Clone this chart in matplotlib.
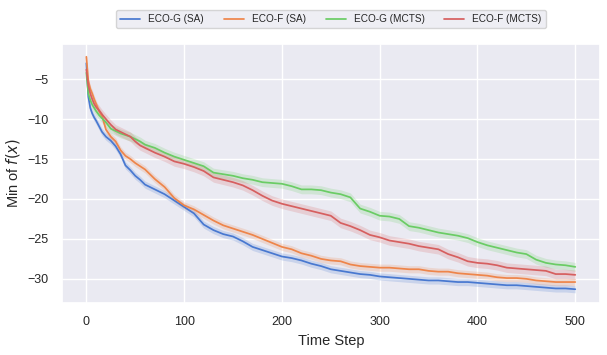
import matplotlib
matplotlib.use("Agg")
import matplotlib.pyplot as plt
import seaborn as sns
import numpy as np

sns.set_theme(style="darkgrid", palette="muted")
plt.rcParams["font.family"] = ["Liberation Sans", "DejaVu Sans"]

steps = [0, 2, 4, 6, 8, 10, 13, 16, 20, 25, 30, 35, 40, 45, 50, 55, 60, 70, 80, 90,
         100, 110, 120, 130, 140, 150, 160, 170, 180, 190, 200, 210, 220, 230, 240,
         250, 260, 270, 280, 290, 300, 310, 320, 330, 340, 350, 360, 370, 380, 390,
         400, 410, 420, 430, 440, 450, 460, 470, 480, 490, 500]

eco_g_sa = [-3.0, -7.2, -8.6, -9.3, -9.8, -10.2, -10.9, -11.6, -12.2, -12.7, -13.4,
            -14.4, -15.8, -16.4, -17.1, -17.6, -18.2, -18.8, -19.4, -20.2, -21.0,
            -21.8, -23.2, -23.9, -24.4, -24.7, -25.3, -26.0, -26.4, -26.8, -27.2,
            -27.4, -27.7, -28.1, -28.4, -28.8, -29.0, -29.2, -29.4, -29.5, -29.7,
            -29.8, -29.9, -30.0, -30.1, -30.2, -30.2, -30.3, -30.4, -30.4, -30.5,
            -30.6, -30.7, -30.8, -30.8, -30.9, -31.0, -31.1, -31.2, -31.2, -31.3]
eco_f_sa = [-2.2, -5.2, -6.2, -6.8, -7.5, -8.1, -9.0, -9.6, -11.3, -12.2, -12.8,
            -13.9, -14.6, -15.0, -15.5, -15.9, -16.3, -17.5, -18.5, -19.9, -20.8,
            -21.3, -22.0, -22.7, -23.3, -23.7, -24.1, -24.5, -25.0, -25.5, -26.0,
            -26.3, -26.8, -27.1, -27.5, -27.7, -27.8, -28.2, -28.4, -28.5, -28.6,
            -28.6, -28.7, -28.8, -28.8, -29.0, -29.1, -29.1, -29.3, -29.4, -29.5,
            -29.6, -29.8, -29.9, -29.9, -30.0, -30.2, -30.3, -30.4, -30.4, -30.4]
eco_g_mcts = [-4.2, -6.8, -7.6, -8.2, -8.6, -9.0, -9.5, -9.9, -10.4, -11.2, -11.5,
              -11.8, -12.0, -12.2, -12.5, -12.8, -13.2, -13.6, -14.2, -14.7, -15.1,
              -15.5, -15.9, -16.7, -16.9, -17.1, -17.4, -17.6, -17.9, -18.0, -18.1,
              -18.4, -18.8, -18.8, -18.9, -19.2, -19.4, -19.8, -21.2, -21.6, -22.1,
              -22.2, -22.5, -23.4, -23.6, -23.9, -24.2, -24.4, -24.6, -24.9, -25.4,
              -25.8, -26.1, -26.4, -26.7, -26.9, -27.6, -28.0, -28.2, -28.3, -28.5]
eco_f_mcts = [-3.8, -5.8, -6.8, -7.5, -8.1, -8.5, -8.9, -9.4, -10.0, -10.7, -11.3,
              -11.6, -11.9, -12.2, -12.8, -13.3, -13.6, -14.2, -14.7, -15.3, -15.6,
              -16.0, -16.5, -17.3, -17.6, -17.9, -18.3, -18.9, -19.6, -20.2, -20.6,
              -20.9, -21.2, -21.5, -21.8, -22.1, -23.0, -23.4, -23.9, -24.5, -24.8,
              -25.2, -25.4, -25.6, -25.9, -26.1, -26.3, -26.9, -27.3, -27.8, -28.0,
              -28.1, -28.3, -28.6, -28.7, -28.8, -28.9, -29.0, -29.4, -29.4, -29.5]

labels = ["ECO-G (SA)", "ECO-F (SA)", "ECO-G (MCTS)", "ECO-F (MCTS)"]
spread = [0.45, 0.45, 0.55, 0.6]  # half-width of the shaded band

fig, ax = plt.subplots(figsize=(6.07, 3.55), dpi=100)
fig.subplots_adjust(left=0.102, right=0.988, top=0.876, bottom=0.147)

colors = sns.color_palette("muted")
x = np.array(steps)
for i, (ys, lab) in enumerate(zip([eco_g_sa, eco_f_sa, eco_g_mcts, eco_f_mcts], labels)):
    y = np.array(ys)
    ax.fill_between(x, y - spread[i], y + spread[i], color=colors[i], alpha=0.2, linewidth=0)
    ax.plot(x, y, color=colors[i], lw=1.25, label=lab)

ax.set_xlabel("Time Step", fontsize=10.5)
ax.set_ylabel("Min of $f(x)$", fontsize=10.5)
ax.tick_params(labelsize=9)
ax.set_ylim(-33, -0.6)
ax.set_yticks([-5, -10, -15, -20, -25, -30])

ax.legend(loc="lower center", bbox_to_anchor=(0.5, 1.06), ncol=4, fontsize=7.2,
          borderaxespad=0)

fig.savefig("out.png", dpi=100)
